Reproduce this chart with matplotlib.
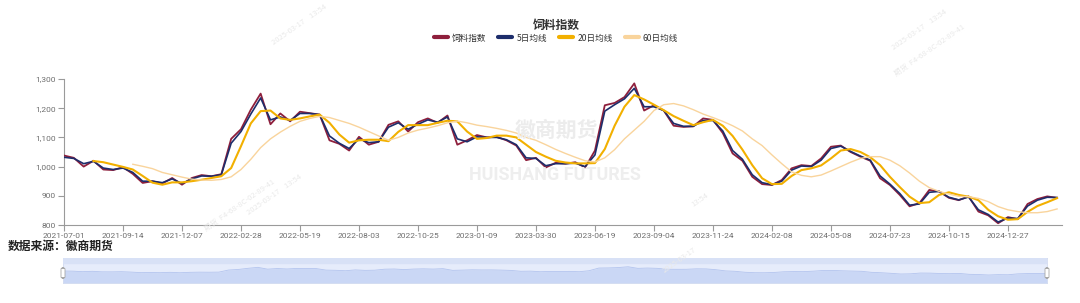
import numpy as np
import matplotlib
matplotlib.use('Agg')
import matplotlib.pyplot as plt
from matplotlib.patches import FancyBboxPatch, Rectangle
from matplotlib.lines import Line2D

plt.rcParams['font.family'] = ['Noto Sans CJK SC', 'DejaVu Sans']

# x axis labels, one every 6 samples
tick_labels = ['2021-07-01', '2021-09-14', '2021-12-07', '2022-02-28', '2022-05-19',
               '2022-08-03', '2022-10-25', '2023-01-09', '2023-03-30', '2023-06-19',
               '2023-09-04', '2023-11-24', '2024-02-08', '2024-05-08', '2024-07-23',
               '2024-10-15', '2024-12-27']

# feed index, sampled about every 9 trading days
index_vals = [1038, 1030, 1000, 1020, 990, 988, 998, 975, 944, 950,
              942, 961, 938, 961, 971, 967, 974, 1095, 1128, 1195,
              1250, 1145, 1182, 1155, 1188, 1183, 1178, 1090, 1078, 1055,
              1102, 1075, 1085, 1143, 1155, 1120, 1152, 1165, 1150, 1175,
              1075, 1090, 1108, 1100, 1102, 1090, 1072, 1022, 1030, 997,
              1013, 1010, 1015, 997, 1055, 1210, 1218, 1238, 1285, 1192,
              1210, 1192, 1140, 1136, 1138, 1165, 1160, 1115, 1045, 1020,
              965, 940, 937, 954, 994, 1005, 1002, 1028, 1068, 1072,
              1050, 1034, 1020, 960, 937, 903, 864, 875, 920, 915,
              893, 885, 898, 846, 833, 806, 827, 820, 872, 889,
              898, 893]

ma5 = [1032, 1028, 1010, 1018, 995, 990, 995, 980, 950, 950,
       945, 958, 942, 958, 968, 967, 972, 1080, 1120, 1180,
       1235, 1160, 1170, 1158, 1182, 1182, 1178, 1105, 1080, 1062,
       1095, 1082, 1085, 1135, 1150, 1128, 1145, 1160, 1152, 1170,
       1095, 1085, 1102, 1100, 1100, 1092, 1075, 1030, 1028, 1003,
       1010, 1010, 1012, 1000, 1040, 1190, 1212, 1232, 1268, 1205,
       1205, 1192, 1148, 1138, 1138, 1158, 1158, 1122, 1055, 1025,
       972, 945, 938, 950, 988, 1002, 1000, 1022, 1062, 1070,
       1052, 1036, 1022, 968, 940, 908, 868, 872, 912, 915,
       895, 886, 896, 852, 836, 810, 824, 822, 865, 885,
       895, 894]

ma20 = [None, None, None, 1019, 1015, 1007, 999, 990, 968, 945,
        938, 946, 946, 950, 955, 961, 967, 995, 1070, 1148,
        1190, 1192, 1165, 1160, 1165, 1172, 1178, 1150, 1110, 1082,
        1090, 1092, 1092, 1087, 1119, 1142, 1142, 1142, 1150, 1157,
        1155, 1120, 1095, 1098, 1106, 1106, 1100, 1075, 1050, 1034,
        1020, 1014, 1011, 1011, 1012, 1060, 1140, 1205, 1245, 1230,
        1212, 1193, 1173, 1157, 1142, 1152, 1160, 1140, 1105, 1058,
        1005, 960, 940, 941, 968, 988, 994, 1004, 1028, 1055,
        1060, 1050, 1032, 1005, 965, 930, 897, 875, 878, 903,
        912, 903, 897, 885, 852, 830, 818, 820, 845, 865,
        878, 892]

ma60 = [None, None, None, None, None, None, None, 1008, 1001, 993,
        980, 972, 964, 957, 954, 953, 956, 965, 990, 1025,
        1065, 1095, 1118, 1138, 1155, 1165, 1172, 1168, 1158, 1148,
        1135, 1120, 1105, 1090, 1100, 1115, 1125, 1132, 1140, 1150,
        1156, 1150, 1142, 1137, 1131, 1124, 1115, 1100, 1090, 1075,
        1059, 1045, 1032, 1020, 1016, 1030, 1058, 1095, 1125, 1155,
        1192, 1212, 1216, 1208, 1195, 1180, 1168, 1155, 1140, 1122,
        1095, 1072, 1040, 1010, 982, 970, 965, 971, 985, 1000,
        1015, 1028, 1034, 1034, 1022, 1003, 978, 950, 928, 915,
        906, 898, 897, 891, 880, 863, 852, 846, 842, 842,
        846, 855]

names = ['饲料指数', '5日均线', '20日均线', '60日均线']
colors = ['#8e1f3c', '#1d2d6b', '#f2b000', '#f9d49c']

x = np.arange(len(index_vals))
to_arr = lambda v: np.array([np.nan if a is None else a for a in v], dtype=float)

W, H = 1080, 303
fig = plt.figure(figsize=(W / 100, H / 100), dpi=100)
fig.patch.set_facecolor('white')

ax = fig.add_axes([64 / W, (H - 225) / H, 998 / W, 146 / H])
ax.plot(x, index_vals, color=colors[0], lw=1.3, zorder=3)
ax.plot(x, ma5, color=colors[1], lw=1.2, zorder=4)
ax.plot(x, to_arr(ma20), color=colors[2], lw=1.5, zorder=5)
ax.plot(x, to_arr(ma60), color=colors[3], lw=1.0, zorder=6)

ax.set_xlim(0, 101.5)
ax.set_ylim(800, 1300)
ax.set_yticks([800, 900, 1000, 1100, 1200, 1300])
ax.set_yticklabels(['800', '900', '1,000', '1,100', '1,200', '1,300'])
ax.set_xticks(np.arange(0, 97, 6))
ax.set_xticklabels(tick_labels)
for s in ['top', 'right']:
    ax.spines[s].set_visible(False)
for s in ['left', 'bottom']:
    ax.spines[s].set_color('#9a9a9a')
    ax.spines[s].set_linewidth(0.8)
ax.tick_params(colors='#9a9a9a', labelcolor='#6e6e6e', length=4, width=0.8, pad=2)
for lab in ax.get_xticklabels() + ax.get_yticklabels():
    lab.set_family('Roboto')
    lab.set_fontsize(6)

# watermarks
fig.text(556 / W, 1 - 130 / H, '徽商期货', fontsize=15, color='#ececec',
         ha='center', va='center', fontweight='bold', zorder=0)
fig.text(555 / W, 1 - 175 / H, 'HUISHANG FUTURES', fontsize=13, color='#eeeeee',
         ha='center', va='center', fontweight='bold', family='Roboto', zorder=0)
for (wx, wy, s) in [(275, 195, '2025-03-17    13:54'), (240, 205, '期货  F4-68-8C-02-89-41'),
                    (300, 25, '2025-03-17    13:54'), (920, 30, '2025-03-17    13:54'),
                    (930, 50, '期货  F4-68-8C-02-89-41'), (680, 260, '2025-03-17'),
                    (700, 200, '13:54')]:
    fig.text(wx / W, 1 - wy / H, s, fontsize=5.5, color='#e9e9e9', rotation=35,
             ha='center', va='center', zorder=0)

# title and legend
fig.text(556 / W, 1 - 25 / H, '饲料指数', fontsize=8.5, fontweight='bold',
         color='#333333', ha='center', va='center')
handles = [Line2D([0], [0], color=c, lw=3, solid_capstyle='round') for c in colors]
leg = fig.legend(handles, names, loc='center', bbox_to_anchor=(556 / W, 1 - 38 / H),
                 ncol=4, frameon=False, fontsize=6.2, handlelength=1.6,
                 handletextpad=0.5, columnspacing=1.4, borderaxespad=0)
for t in leg.get_texts():
    t.set_color('#333333')

# source
fig.text(8 / W, 1 - 246 / H, '数据来源：徽商期货', fontsize=8.5, fontweight='bold',
         color='#222222', ha='left', va='center')

# slider
sl = fig.add_axes([63 / W, (H - 283) / H, 984 / W, 25 / H])
sl.set_xlim(0, len(index_vals) - 1)
sl.set_ylim(342, 1793)
sl.add_patch(Rectangle((0, 0), 1, 1, transform=sl.transAxes, color='#e6ecfb', zorder=0))
sl.fill_between(x, 342, index_vals, color='#cad7f5', lw=0, zorder=1)
sl.plot(x, index_vals, color='#b3c4ee', lw=0.6, zorder=2)
sl.add_patch(Rectangle((0, 0.8), 1, 0.2, transform=sl.transAxes, color='#d8e1f6', zorder=3))
sl.set_xticks([])
sl.set_yticks([])
for s in sl.spines.values():
    s.set_color('#d2dbf0')
    s.set_linewidth(0.6)
for hx in [63, 1047]:
    fig.patches.append(FancyBboxPatch(((hx - 2) / W, (H - 278) / H), 4 / W, 10 / H,
                                      boxstyle='round,pad=0,rounding_size=0.003',
                                      transform=fig.transFigure, facecolor='white',
                                      edgecolor='#a8a8a8', lw=0.6, zorder=10))

fig.savefig('out.png', dpi=100)
